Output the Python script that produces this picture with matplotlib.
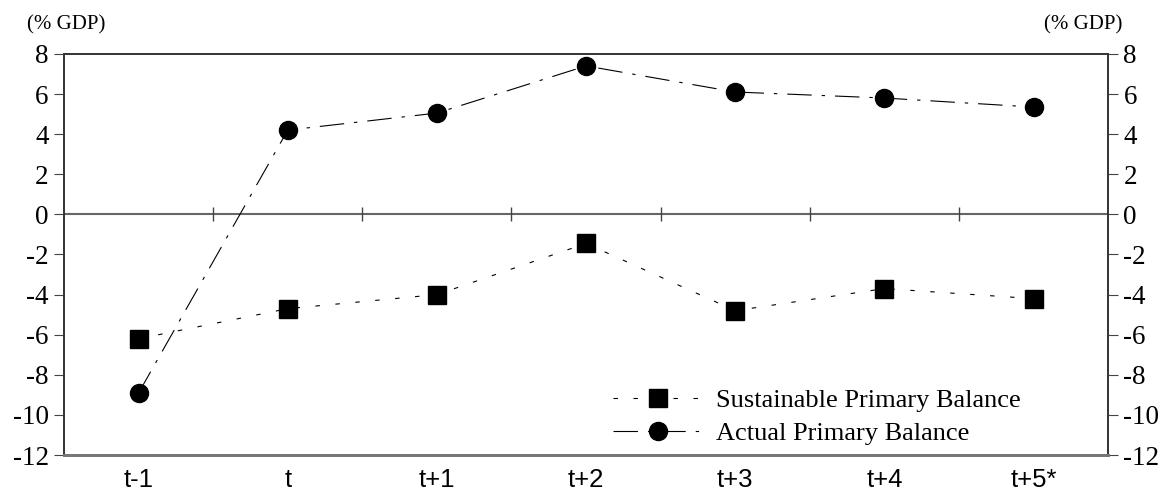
import numpy as np
import matplotlib.pyplot as plt

# data
periods = ['t-1', 't', 't+1', 't+2', 't+3', 't+4', 't+5*']
sustainable = [-6.2, -4.7, -4.0, -1.45, -4.8, -3.7, -4.2]
actual = [-8.9, 4.2, 5.05, 7.4, 6.1, 5.8, 5.35]
yticks = list(range(-12, 9, 2))

serif = 'Liberation Serif'
sans = 'Liberation Sans'

fig = plt.figure(figsize=(11.64, 4.99), dpi=100)
ax = fig.add_axes([0.055, 0.088, 0.897, 0.804])
x = np.arange(len(periods))

ax.plot(x, sustainable, color='black', lw=0.8, ls=(0, (4, 14)),
        marker='s', ms=13, mfc='black', mec='black',
        label='Sustainable Primary Balance')
ax.plot(x, actual, color='black', lw=0.8, ls=(0, (22, 9, 3, 9)),
        marker='o', ms=13, mfc='black', mec='black',
        label='Actual Primary Balance')

# zero line with separators between periods
ax.axhline(0, color='#666666', lw=1.5, zorder=1)
ax.vlines(x[:-1] + 0.5, -0.35, 0.35, color='#444444', lw=1)

ax.set_xlim(-0.5, len(periods) - 0.5)
ax.set_ylim(-12, 8)
ax.set_xticks(x)
ax.set_xticklabels(periods, fontfamily=sans, fontsize=18.5)
ax.tick_params(axis='x', length=0, pad=9)
ax.set_yticks(yticks)
ax.set_yticklabels([str(v) for v in yticks], fontfamily=serif, fontsize=19.5)
ax.tick_params(axis='y', direction='out', length=7, color='#444444', pad=4)

ax2 = ax.twinx()
ax2.set_ylim(-12, 8)
ax2.set_yticks(yticks)
ax2.set_yticklabels([str(v) for v in yticks], fontfamily=serif, fontsize=19.5)
ax2.tick_params(axis='y', direction='out', length=7, color='#444444', pad=4)

for a in (ax, ax2):
    for side in ['left', 'right', 'top']:
        a.spines[side].set_color('#333333')
        a.spines[side].set_linewidth(1.2)
    a.spines['bottom'].set_color('#777777')
    a.spines['bottom'].set_linewidth(2)

fig.text(0.023, 0.95, '(% GDP)', fontfamily=serif, fontsize=15, va='center')
fig.text(0.964, 0.95, '(% GDP)', fontfamily=serif, fontsize=15, va='center', ha='right')

leg = ax.legend(loc='lower right', bbox_to_anchor=(0.939, -0.035), frameon=False,
                prop={'family': serif, 'size': 19}, handlelength=3.4,
                labelspacing=0.36, handletextpad=0.5)

fig.savefig('out.png', dpi=100)
